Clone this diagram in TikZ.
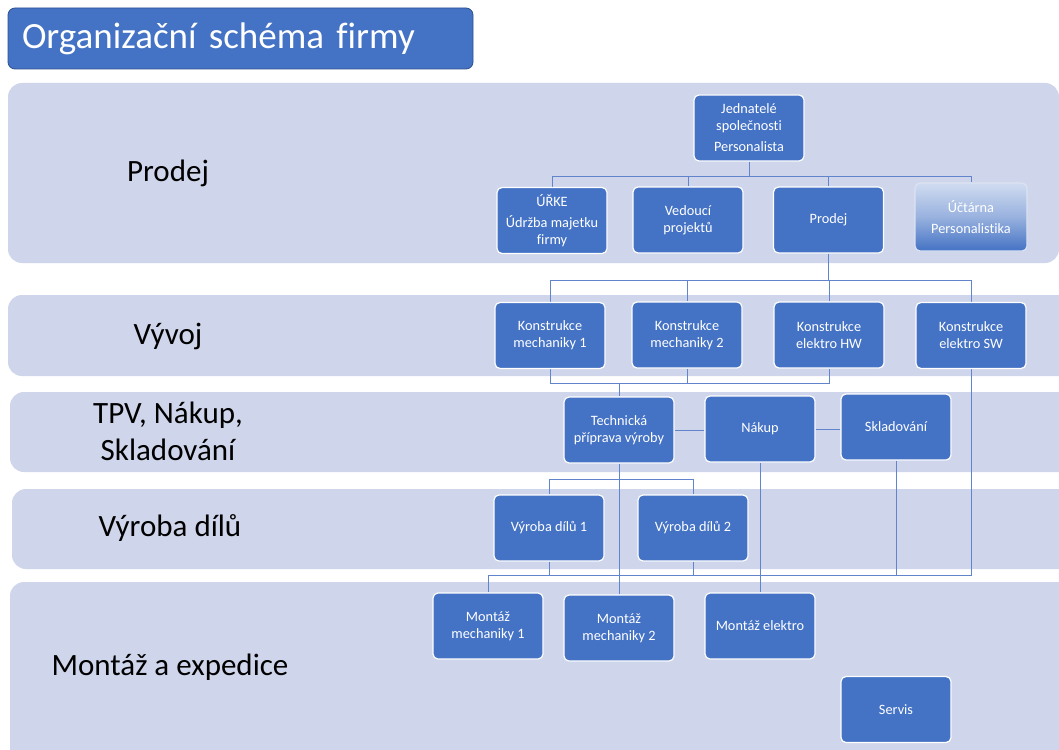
\documentclass[tikz,border=0pt]{standalone}
\usepackage{fontspec}
\setmainfont{Carlito}[Ligatures=NoCommon]
\usetikzlibrary{calc}
\definecolor{boxblue}{RGB}{68,114,196}
\definecolor{boxedge}{RGB}{47,82,143}
\definecolor{bandcol}{RGB}{207,213,234}
\definecolor{linecol}{RGB}{98,132,204}
\pgfdeclarelayer{bands}
\pgfdeclarelayer{lines}
\pgfsetlayers{bands,lines,main}
\tikzset{
  orgbox/.style={draw=white, line width=1.2pt, fill=boxblue, rounded corners=5pt,
    minimum width=110pt, minimum height=66pt, inner sep=2pt, align=center,
    text=white, font=\fontsize{14.3}{17}\selectfont},
  gradbox/.style={orgbox, fill=none, top color=white!75!boxblue, bottom color=boxblue,
    middle color=white!45!boxblue, draw=white!80!boxblue},
  conn/.style={draw=linecol, line width=0.95pt},
  bandlab/.style={text=black, font=\fontsize{31}{36}\selectfont, align=center},
  band/.style={fill=bandcol, rounded corners=14pt},
  titlebox/.style={draw=boxedge, line width=0.8pt, fill=boxblue, rounded corners=7pt,
    text=white, font=\fontsize{37}{42}\selectfont, align=left}
}
\begin{document}
\begin{tikzpicture}[x=1pt,y=-1pt]
\useasboundingbox (0,0) rectangle (1059,749);
\clip (0,0) rectangle (1059,749);

% bands
\begin{pgfonlayer}{bands}
\fill[white] (0,0) rectangle (1059,749);
\fill[band] (8,83) rectangle (1059,263);
\fill[band] (8,295) rectangle (1080,376);
\fill[band] (10,392) rectangle (1080,472);
\fill[band] (12,489) rectangle (1080,569);
\fill[band] (10,582) rectangle (1080,775);
\end{pgfonlayer}

% title
\node[titlebox, minimum width=465pt, minimum height=61pt, text width=437pt, inner xsep=14pt] (title) at (240.5,38.5) {Organizační schéma firmy};

% band labels
\node[bandlab] (l1) at (168,173) {Prodej};
\node[bandlab] (l2) at (168,336) {Vývoj};
\node[bandlab, font=\fontsize{31}{37}\selectfont] (l3) at (168,431) {TPV, Nákup,\\Skladování};
\node[bandlab] (l4) at (170,528) {Výroba dílů};
\node[bandlab] (l5) at (170,667) {Montáž a expedice};

% boxes
\node[orgbox] (J) at (749,128) {Jednatelé\\společnosti\\[4pt]Personalista};
\node[orgbox] (U) at (552,220.5) {ÚŘKE\\[4pt]Údržba majetku\\firmy};
\node[orgbox] (V) at (688,220) {Vedoucí\\projektů};
\node[orgbox] (P) at (828.5,220) {Prodej};
\node[gradbox, minimum width=112pt, minimum height=68pt] (A) at (971,217) {Účtárna\\[4pt]Personalistika};

\node[orgbox] (K1) at (550,335.5) {Konstrukce\\mechaniky 1};
\node[orgbox] (K2) at (687,335) {Konstrukce\\mechaniky 2};
\node[orgbox] (KH) at (829,335) {Konstrukce\\elektro HW};
\node[orgbox] (KS) at (971,335.5) {Konstrukce\\elektro SW};

\node[orgbox] (T) at (619,430) {Technická\\příprava výroby};
\node[orgbox] (N) at (760,429) {Nákup};
\node[orgbox] (S) at (896,427) {Skladování};

\node[orgbox] (V1) at (549,528) {Výroba dílů 1};
\node[orgbox] (V2) at (693,528) {Výroba dílů 2};

\node[orgbox] (M1) at (488,626) {Montáž\\mechaniky 1};
\node[orgbox] (M2) at (619,628) {Montáž\\mechaniky 2};
\node[orgbox] (ME) at (760,626) {Montáž elektro};
\node[orgbox] (SV) at (896,709.5) {Servis};

% bus levels
\coordinate (y1) at (0,176);
\coordinate (y2) at (0,280);
\coordinate (y3) at (0,383);
\coordinate (y4) at (0,479);
\coordinate (y5) at (0,575);

\begin{pgfonlayer}{lines}
\draw[conn] (J.south) -- (J.south |- y1);
\draw[conn] (U.north) |- (A.north |- y1) -- (A.north);
\draw[conn] (V.north) -- (V.north |- y1);
\draw[conn] (P.north) -- (P.north |- y1);

\draw[conn] (P.south) -- (P.south |- y2);
\draw[conn] (K1.north) |- (KS.north |- y2) -- (KS.north);
\draw[conn] (K2.north) -- (K2.north |- y2);
\draw[conn] (KH.north) -- (KH.north |- y2);

\draw[conn] (K1.south) |- (KH.south |- y3) -- (KH.south);
\draw[conn] (K2.south) -- (K2.south |- y3);
\draw[conn] (T.north) -- (T.north |- y3);

\draw[conn] (T.east) -- (T.east -| N.west);
\draw[conn] (N.east) -- (N.east -| S.west);

\draw[conn] (T.south) -- (M2.north);
\draw[conn] (V1.north) |- (V2.north |- y4) -- (V2.north);
\draw[conn] (N.south) -- (ME.north);

\draw[conn] (M1.north) |- (KS.south |- y5) -- (KS.south);
\draw[conn] (S.south) -- (S.south |- y5);
\draw[conn] (V1.south) -- (V1.south |- y5);
\draw[conn] (V2.south) -- (V2.south |- y5);
\end{pgfonlayer}
\end{tikzpicture}
\end{document}
